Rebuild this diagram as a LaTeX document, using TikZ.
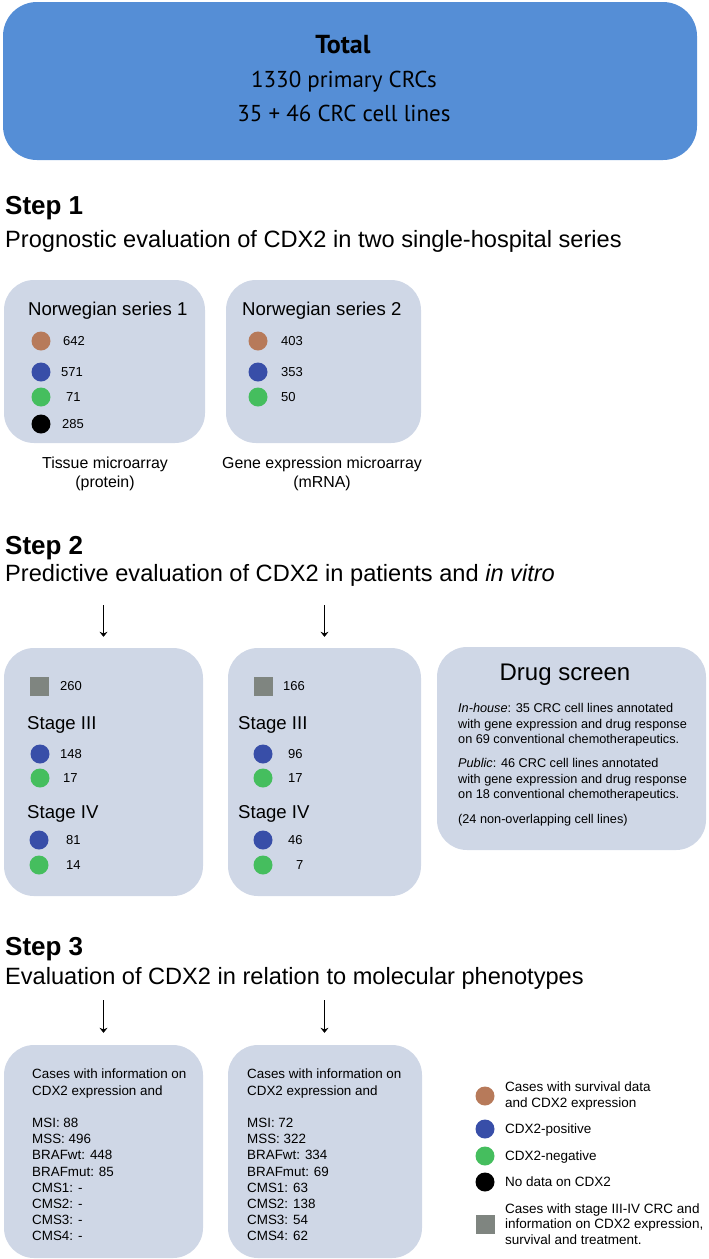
\documentclass[tikz,border=0pt]{standalone}
\usepackage{fontspec}
\setmainfont{Liberation Sans}
\newfontfamily\myriadish{PT Sans}
\usetikzlibrary{arrows.meta}
\definecolor{totalblue}{RGB}{85,142,214}
\definecolor{panelgrey}{RGB}{207,215,230}
\definecolor{dotbrown}{RGB}{183,122,90}
\definecolor{dotblue}{RGB}{56,78,168}
\definecolor{dotgreen}{RGB}{69,190,94}
\definecolor{sqgrey}{RGB}{127,133,128}
\tikzset{
  totalbox/.style={fill=totalblue, rounded corners=34pt, inner sep=0pt},
  panel/.style={fill=panelgrey, rounded corners=30pt, inner sep=0pt},
  dot/.style={circle, inner sep=0pt, minimum size=19pt},
  sqr/.style={rectangle, inner sep=0pt, minimum size=19pt, fill=sqgrey},
  steplabel/.style={anchor=base west, inner sep=0pt, font=\fontsize{26}{30}\selectfont\bfseries},
  stepsub/.style={anchor=base west, inner sep=0pt, font=\fontsize{23.6}{28}\selectfont},
  boxhead/.style={anchor=base west, inner sep=0pt, font=\fontsize{18.6}{22}\selectfont},
  num/.style={anchor=west, inner sep=0pt, font=\fontsize{13}{15}\selectfont},
  casetext/.style={anchor=north west, align=left, inner sep=0pt, font=\fontsize{13.4}{16.2}\selectfont},
  legtext/.style={anchor=west, align=left, inner sep=0pt, font=\fontsize{13.5}{15.5}\selectfont},
  arr/.style={-{Stealth[length=5pt,width=8pt]}, line width=1.1pt},
}
\begin{document}
\begin{tikzpicture}[x=1pt,y=-1pt]
  \useasboundingbox (0,0) rectangle (709,1259);

  \node[totalbox, minimum width=694pt, minimum height=158pt] (total) at (350,81) {};
  \node[anchor=base, inner sep=0pt, font=\myriadish\fontsize{26}{30}\selectfont\bfseries] (totalhead) at (343,53) {Total};
  \node[anchor=base, inner sep=0pt, font=\myriadish\fontsize{23}{27}\selectfont] (totalcrc) at (344,87) {1330 primary CRCs};
  \node[anchor=base, inner sep=0pt, font=\myriadish\fontsize{23}{27}\selectfont] (totalcells) at (344,121) {35 + 46 CRC cell lines};

  \node[steplabel] (step1) at (5,214) {Step 1};
  \node[stepsub] (sub1) at (5,247) {Prognostic evaluation of CDX2 in two single-hospital series};

  \node[panel, minimum width=201pt, minimum height=163pt] (p1l) at (104.5,361.5) {};
  \node[panel, minimum width=195pt, minimum height=163pt] (p1r) at (323.5,361.5) {};
  \node[boxhead] (nor1) at (28,315) {Norwegian series 1};
  \node[boxhead] (nor2) at (242,315) {Norwegian series 2};
  \node[dot, fill=dotbrown] (s1a) at (41,341) {};
  \node[dot, fill=dotblue] (s1b) at (41,372) {};
  \node[dot, fill=dotgreen] (s1c) at (41,397) {};
  \node[dot, fill=black] (s1d) at (41,424) {};
  \node[num] (n1a) at (63,341) {642};
  \node[num] (n1b) at (61,372) {571};
  \node[num] (n1c) at (66,397) {71};
  \node[num] (n1d) at (62,424) {285};
  \node[dot, fill=dotbrown] (s2a) at (258,341) {};
  \node[dot, fill=dotblue] (s2b) at (258,372) {};
  \node[dot, fill=dotgreen] (s2c) at (258,397) {};
  \node[num] (n2a) at (281,341) {403};
  \node[num] (n2b) at (281,372) {353};
  \node[num] (n2c) at (281,397) {50};
  \node[anchor=north, align=center, inner sep=0pt, font=\fontsize{15.9}{19.5}\selectfont] (tma) at (105,456.5) {Tissue microarray\\(protein)};
  \node[anchor=north, align=center, inner sep=0pt, font=\fontsize{15.9}{19.5}\selectfont] (gea) at (322,456.5) {Gene expression microarray\\(mRNA)};

  \node[steplabel] (step2) at (5,554) {Step 2};
  \node[stepsub] (sub2) at (5,581) {Predictive evaluation of CDX2 in patients and \textit{in vitro}};

  \node[panel, minimum width=199pt, minimum height=248pt] (p2l) at (103.5,772) {};
  \node[panel, minimum width=193pt, minimum height=248pt] (p2r) at (324.5,772) {};
  \node[panel, minimum width=269pt, minimum height=203pt] (drug) at (571.5,748.5) {};
  \coordinate (a2l) at (103.5,605);
  \coordinate (a2r) at (324.5,605);
  \draw[arr] (a2l) -- ([yshift=11pt]p2l.north);
  \draw[arr] (a2r) -- ([yshift=11pt]p2r.north);

  \node[sqr] (q1) at (39,686) {};
  \node[num] (m1) at (60,686) {260};
  \node[boxhead] (st3l) at (27,729) {Stage III};
  \node[dot, fill=dotblue] (t1a) at (40,754) {};
  \node[dot, fill=dotgreen] (t1b) at (40,778) {};
  \node[num] (m1a) at (60,754) {148};
  \node[num] (m1b) at (63,778) {17};
  \node[boxhead] (st4l) at (27,818) {Stage IV};
  \node[dot, fill=dotblue] (t1c) at (39,840) {};
  \node[dot, fill=dotgreen] (t1d) at (39,865) {};
  \node[num] (m1c) at (66,840) {81};
  \node[num] (m1d) at (66,865) {14};

  \node[sqr] (q2) at (263,686) {};
  \node[num] (m2) at (283,686) {166};
  \node[boxhead] (st3r) at (238,729) {Stage III};
  \node[dot, fill=dotblue] (t2a) at (263,754) {};
  \node[dot, fill=dotgreen] (t2b) at (263,778) {};
  \node[num] (m2a) at (288,754) {96};
  \node[num] (m2b) at (288,778) {17};
  \node[boxhead] (st4r) at (238,818) {Stage IV};
  \node[dot, fill=dotblue] (t2c) at (263,840) {};
  \node[dot, fill=dotgreen] (t2d) at (263,865) {};
  \node[num] (m2c) at (288,840) {46};
  \node[num] (m2d) at (296,865) {7};

  \node[anchor=base, inner sep=0pt, font=\fontsize{24}{28}\selectfont] (drughead) at (565,680) {Drug screen};
  \node[anchor=north west, align=left, inner sep=0pt, font=\fontsize{12.7}{15.5}\selectfont] (drugtext) at (458,703.5)
    {\textit{In-house}: 35 CRC cell lines annotated\\with gene expression and drug response\\on 69 conventional chemotherapeutics.\\[8.5pt]
     \textit{Public}: 46 CRC cell lines annotated\\with gene expression and drug response\\on 18 conventional chemotherapeutics.\\[9pt]
     (24 non-overlapping cell lines)};

  \node[steplabel] (step3) at (5,955) {Step 3};
  \node[stepsub] (sub3) at (5,984) {Evaluation of CDX2 in relation to molecular phenotypes};

  \node[panel, minimum width=199pt, minimum height=213pt] (p3l) at (103.5,1151.5) {};
  \node[panel, minimum width=194pt, minimum height=213pt] (p3r) at (325,1151.5) {};
  \coordinate (a3l) at (103.5,1000);
  \coordinate (a3r) at (324.5,1000);
  \draw[arr] (a3l) -- ([yshift=12pt]p3l.north);
  \draw[arr] (a3r) -- ([yshift=12pt]p3r.north -| a3r);
  \node[casetext] (c1) at (32,1069) {Cases with information on\\CDX2 expression and\\[16.2pt]MSI: 88\\MSS: 496\\BRAFwt: 448\\BRAFmut: 85\\CMS1: -\\CMS2: -\\CMS3: -\\CMS4: -};
  \node[casetext] (c2) at (247,1069) {Cases with information on\\CDX2 expression and\\[16.2pt]MSI: 72\\MSS: 322\\BRAFwt: 334\\BRAFmut: 69\\CMS1: 63\\CMS2: 138\\CMS3: 54\\CMS4: 62};

  \node[dot, fill=dotbrown] (l1) at (485,1096) {};
  \node[dot, fill=dotblue] (l2) at (485,1129) {};
  \node[dot, fill=dotgreen] (l3) at (485,1156) {};
  \node[dot, fill=black] (l4) at (485,1182) {};
  \node[sqr] (l5) at (485,1224) {};
  \node[legtext] (lt1) at (505,1096) {Cases with survival data\\and CDX2 expression};
  \node[legtext] (lt2) at (505,1130) {CDX2-positive};
  \node[legtext] (lt3) at (505,1157) {CDX2-negative};
  \node[legtext] (lt4) at (505,1182) {No data on CDX2};
  \node[legtext] (lt5) at (505,1224) {Cases with stage III-IV CRC and\\information on CDX2 expression,\\survival and treatment.};
\end{tikzpicture}
\end{document}
